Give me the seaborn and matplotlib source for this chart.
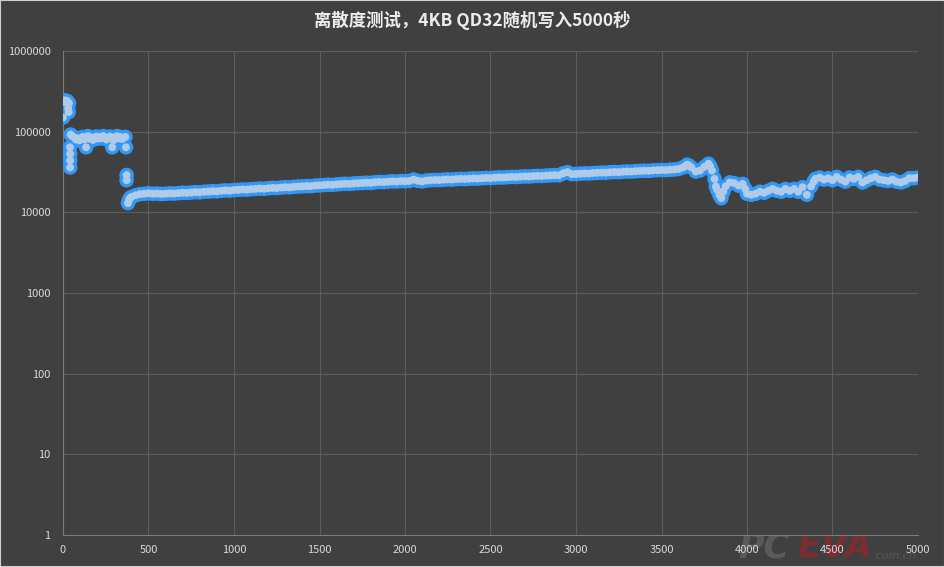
import numpy as np
import pandas as pd
import matplotlib
matplotlib.use("Agg")
import matplotlib.pyplot as plt
from matplotlib.patches import Rectangle
import seaborn as sns

# seconds / IOPS
start_t = [0, 5, 10, 15, 20, 25, 30, 33, 35]
start_v = [150000, 235000, 245000, 240000, 230000, 240000, 195000, 175000, 225000]

slc_t = [45, 55, 65, 75, 85, 95, 105, 115, 125, 135, 145, 155, 165, 175, 185, 195, 205,
         215, 225, 235, 245, 255, 265, 275, 285, 295, 305, 315, 325, 335, 345, 355, 365]
slc_v = [92, 88, 85, 80, 83, 78, 82, 86, 80, 84, 88, 82, 85, 79, 84, 87, 82,
         86, 83, 88, 85, 80, 84, 87, 82, 78, 85, 88, 83, 86, 81, 84, 86]

outlier_t = [41, 42, 42, 42, 135, 288, 368, 372, 372]
outlier_v = [64000, 53000, 44000, 36000, 64000, 64000, 64000, 29000, 25000]

main_t = [380, 385, 390] + list(range(400, 3625, 25)) + [
    3625, 3640, 3650, 3660, 3675, 3700, 3725, 3750, 3775, 3785, 3795, 3810, 3818,
    3825, 3838, 3850, 3862, 3875, 3900, 3925, 3950, 3975, 3990] + list(range(4000, 4400, 25)) + [
    4390] + list(range(4400, 5025, 25))
main_v = [13.0, 14.0, 14.8,
    # 400 - 3600
    15.5, 16.3, 16.8, 17.0, 17.2, 17.0, 17.1, 16.9, 17.0, 17.2, 17.1, 17.3, 17.5, 17.4,
    17.6, 17.8, 17.7, 18.0, 18.1, 18.3, 18.2, 18.5, 18.7, 18.6, 18.9, 19.0, 19.2, 19.1,
    19.4, 19.5, 19.7, 19.6, 19.9, 20.1, 20.0, 20.3, 20.5, 20.4, 20.7, 20.9, 21.0, 21.2,
    21.1, 21.5, 21.6, 21.8, 22.0, 21.9, 22.2, 22.4, 22.6, 22.5, 22.8, 23.0, 23.1, 23.3,
    23.2, 23.6, 23.8, 23.7, 24.0, 24.2, 24.1, 24.4, 24.3, 24.5, 25.5, 24.6, 24.2, 24.8,
    25.0, 25.2, 25.1, 25.4, 25.6, 25.5, 25.8, 26.0, 25.9, 26.1, 26.3, 26.2, 26.5, 26.7,
    26.6, 26.9, 27.1, 27.0, 27.3, 27.5, 27.4, 27.7, 27.9, 27.8, 28.1, 28.3, 28.2, 28.5,
    28.7, 28.9, 28.8, 30.5, 31.5, 29.8, 29.9, 30.2, 30.4, 30.3, 30.7, 30.9, 31.1, 31.0,
    31.4, 31.6, 31.5, 31.9, 32.1, 32.0, 32.4, 32.6, 32.8, 32.7, 33.1, 33.3, 33.5, 33.4,
    33.8, 34.0, 34.5,
    # 3625 - 3990
    36.0, 37.5, 39.0, 38.0, 36.0, 32.0, 33.0, 36.5, 40.0, 37.0, 33.0, 26.0, 21.0,
    19.0, 16.5, 15.0, 18.0, 21.0, 23.5, 23.0, 21.5, 22.5, 19.5,
    # 4000 - 4375
    17.0, 16.5, 17.0, 18.0, 17.5, 18.5, 19.5, 18.5, 18.0, 19.5, 18.5, 19.5, 18.0, 20.5,
    16.5, 21.0,
    24.0,
    # 4400 - 5000
    26.0, 27.0, 25.5, 26.5, 25.0, 27.5, 25.5, 24.0, 27.0, 26.0, 27.5, 23.5, 25.0, 26.5,
    27.5, 25.5, 25.0, 24.5, 25.5, 24.0, 23.5, 24.5, 26.5, 26.5, 27.0]

title = "离散度测试，4KB QD32随机写入5000秒"
y_ticks = [1, 10, 100, 1000, 10000, 100000, 1000000]
x_ticks = list(range(0, 5500, 500))

df = pd.DataFrame({
    "t": start_t + slc_t + outlier_t + main_t,
    "iops": start_v + [v * 1000 for v in slc_v] + outlier_v + [v * 1000 for v in main_v],
})

bg = "#404040"
sns.set_theme(style="dark")
plt.rcParams["font.family"] = ["Noto Sans CJK SC", "DejaVu Sans"]

fig = plt.figure(figsize=(9.45, 5.67), dpi=100, facecolor=bg)
ax = fig.add_axes([63 / 945, 1 - 535 / 567, 855 / 945, 484 / 567])
ax.set_facecolor(bg)

# glow layer, then light core
sns.scatterplot(data=df, x="t", y="iops", ax=ax, s=110, color="#3398f5",
                edgecolor="none", linewidth=0, zorder=3)
sns.scatterplot(data=df, x="t", y="iops", ax=ax, s=32, color="#b0cbe8",
                edgecolor="none", linewidth=0, zorder=4)

ax.set_yscale("log")
ax.set_ylim(1, 1000000)
ax.set_xlim(0, 5000)
ax.set_yticks(y_ticks)
ax.set_yticklabels([str(v) for v in y_ticks])
ax.minorticks_off()
ax.set_xticks(x_ticks)
ax.set_xticklabels([str(v) for v in x_ticks])
ax.set_xlabel("")
ax.set_ylabel("")
ax.tick_params(axis="both", colors="#d9d9d9", labelsize=8, length=0)
ax.tick_params(axis="y", pad=9)
ax.tick_params(axis="x", pad=7)
ax.grid(True, color="#5c5c5c", linewidth=0.8)
for side in ["top", "right"]:
    ax.spines[side].set_visible(False)
for side in ["left", "bottom"]:
    ax.spines[side].set_color("#7a7a7a")
    ax.spines[side].set_linewidth(0.8)

fig.text(0.5, 1 - 20 / 567, title, ha="center", va="center",
         color="#ececec", fontsize=12.5, fontweight="bold")

# watermark
fig.text(738 / 945, 1 - 547 / 567, "PC", ha="left", va="center", color="#5a5a5a",
         fontsize=25, fontweight="bold", fontstyle="italic", family="DejaVu Sans", zorder=-1)
fig.text(797 / 945, 1 - 547 / 567, "EVA", ha="left", va="center", color="#7e2c30",
         fontsize=25, fontweight="bold", fontstyle="italic", family="DejaVu Sans", zorder=-1)
fig.text(872 / 945, 1 - 556 / 567, ".com.cn", ha="left", va="center", color="#565656",
         fontsize=8, fontstyle="italic", family="DejaVu Sans", zorder=-1)

fig.patches.append(Rectangle((0, 0), 1, 1, transform=fig.transFigure, fill=False,
                             edgecolor="#cfcfcf", linewidth=1.5))

fig.savefig("out.png", dpi=100, facecolor=bg)
